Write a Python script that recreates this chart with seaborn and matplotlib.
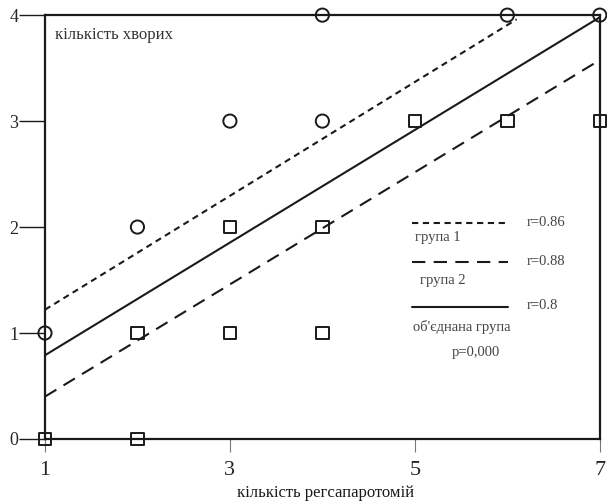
import numpy as np
import pandas as pd
import matplotlib
matplotlib.use("Agg")
import matplotlib.pyplot as plt
import seaborn as sns

# points
g1_x = [1, 2, 3, 4, 4, 6, 7]
g1_y = [1, 2, 3, 3, 4, 4, 4]
g2_x = [1, 2, 2, 3, 3, 4, 4, 5, 6, 7]
g2_y = [0, 0, 1, 1, 2, 1, 2, 3, 3, 3]

# regression lines (end points)
l1_x = [1, 6.1]
l1_y = [1.22, 3.96]
l2_x = [1, 6.97]
l2_y = [0.40, 3.56]
lall_x = [1, 7]
lall_y = [0.79, 3.98]

x_ticks = [1, 3, 5, 7]
y_ticks = [0, 1, 2, 3, 4]
r_labels = ["r=0.86", "r=0.88", "r=0.8"]
grp_labels = ["група 1", "група 2", "об'єднана група"]

sns.set_style("white")
plt.rcParams["font.family"] = ["Liberation Serif", "DejaVu Serif"]

fig = plt.figure(figsize=(6.07, 5.01), dpi=100)
ax = fig.add_axes([0.0741, 0.1238, 0.914, 0.846])
ink = "#1a1a1a"
txt = "#444444"

sns.scatterplot(x=g1_x, y=g1_y, marker="o", s=90, facecolors="none",
                edgecolor=ink, linewidth=1.4, ax=ax, clip_on=False, zorder=3)
sns.scatterplot(x=g2_x, y=g2_y, marker="s", s=80, facecolors="none",
                edgecolor=ink, linewidth=1.4, ax=ax, clip_on=False, zorder=3)

sns.lineplot(x=l1_x, y=l1_y, color=ink, lw=1.5, ax=ax)
ax.lines[-1].set_dashes([3, 2.2])
sns.lineplot(x=l2_x, y=l2_y, color=ink, lw=1.5, ax=ax)
ax.lines[-1].set_dashes([6.4, 4])
sns.lineplot(x=lall_x, y=lall_y, color=ink, lw=1.5, ax=ax)

ax.set_xlim(1, 7)
ax.set_ylim(0, 4)
ax.set_xticks(x_ticks)
ax.set_yticks(y_ticks)
ax.tick_params(axis="y", direction="out", length=19, width=1, pad=0,
               labelsize=13, color=ink, left=True)
ax.tick_params(axis="x", direction="out", length=9.5, width=0.8, pad=6,
               labelsize=16, color="#777777", bottom=True)
for s in ax.spines.values():
    s.set_color(ink)
    s.set_linewidth(1.6)

ax.text(0.018, 0.953, "кількість хворих", transform=ax.transAxes,
        fontsize=12, va="center", ha="left", color="#333333")
fig.text(0.537, 0.015, "кількість регсапаротомій", fontsize=12,
         ha="center", va="center", color=ink)

# legend block
styles = [[3, 2.2], [6.4, 4], None]
line_y = [0.509, 0.417, 0.311]
r_y = [0.511, 0.419, 0.316]
grp_y = [0.476, 0.373, 0.264]
grp_x = [0.667, 0.676, 0.663]
for i in range(3):
    ln, = ax.plot([0.661, 0.834], [line_y[i], line_y[i]],
                  transform=ax.transAxes, color=ink, lw=1.5, clip_on=False)
    if styles[i]:
        ln.set_dashes(styles[i])
    ax.text(0.868, r_y[i], r_labels[i], transform=ax.transAxes,
            fontsize=10.5, va="center", ha="left", color=txt)
    ax.text(grp_x[i], grp_y[i], grp_labels[i], transform=ax.transAxes,
            fontsize=10.5, va="center", ha="left", color=txt)
ax.text(0.733, 0.203, "p=0,000", transform=ax.transAxes, fontsize=10.5,
        va="center", ha="left", color=txt)

fig.savefig("out.png", dpi=100)
